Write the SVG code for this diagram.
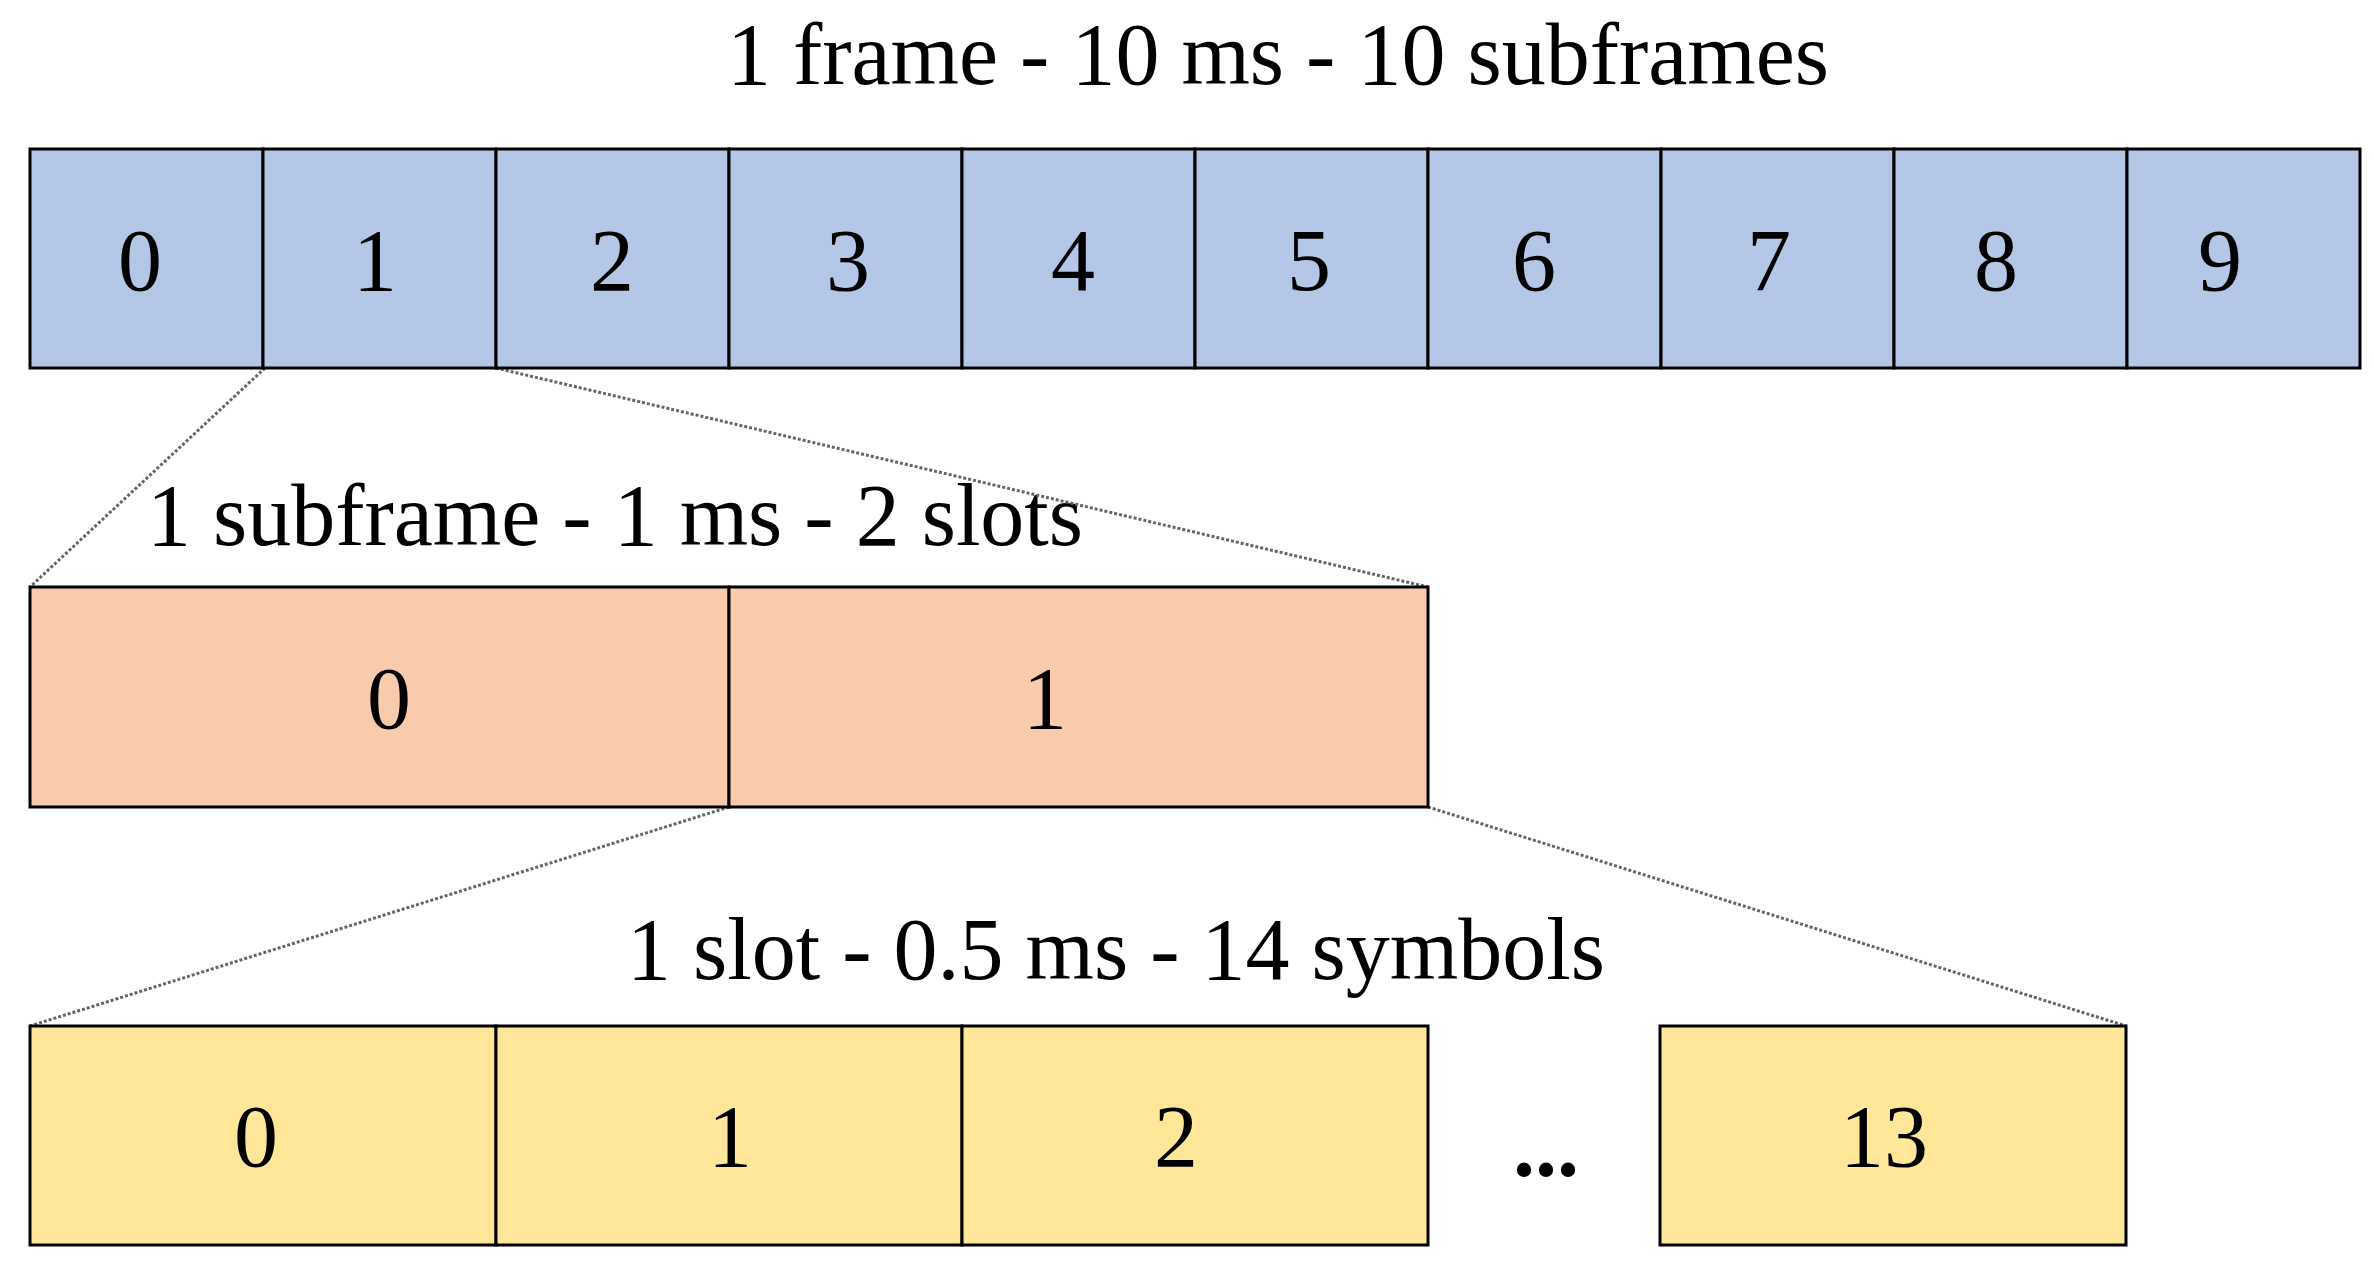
<svg xmlns="http://www.w3.org/2000/svg" width="2374" height="1265" viewBox="0 0 2374 1265">
<style>
text{font-family:"Liberation Serif","DejaVu Serif",serif;fill:#000;text-anchor:middle}
.t{font-size:88px}
.d{font-size:88px}
.b{fill:#B4C7E7;stroke:#000;stroke-width:3}
.p{fill:#F8CBAD;stroke:#000;stroke-width:3}
.y{fill:#FFE699;stroke:#000;stroke-width:3}
.c{stroke:#666;stroke-width:3;stroke-dasharray:3 2;fill:none}
</style>
<rect width="2374" height="1265" fill="#fff"/>
<text class="t" x="1278" y="84">1 frame - 10 ms - 10 subframes</text>
<text class="t" x="615" y="545">1 subframe - 1 ms - 2 slots</text>
<text class="t" x="1116" y="979">1 slot - 0.5 ms - 14 symbols</text>
<g id="connectors">
<line class="c" x1="265" y1="368" x2="30" y2="587"/>
<line class="c" x1="496" y1="368" x2="1428" y2="587"/>
<line class="c" x1="729" y1="807" x2="30" y2="1026"/>
<line class="c" x1="1428" y1="807" x2="2126" y2="1026"/>
</g>
<g id="subframes">
<g id="sf0"><rect class="b" x="30" y="149" width="233" height="219"/><text class="d" x="140" y="290">0</text></g>
<g id="sf1"><rect class="b" x="263" y="149" width="233" height="219"/><text class="d" x="375" y="290">1</text></g>
<g id="sf2"><rect class="b" x="496" y="149" width="233" height="219"/><text class="d" x="612" y="290">2</text></g>
<g id="sf3"><rect class="b" x="729" y="149" width="233" height="219"/><text class="d" x="848" y="290">3</text></g>
<g id="sf4"><rect class="b" x="962" y="149" width="233" height="219"/><text class="d" x="1073" y="290">4</text></g>
<g id="sf5"><rect class="b" x="1195" y="149" width="233" height="219"/><text class="d" x="1309" y="290">5</text></g>
<g id="sf6"><rect class="b" x="1428" y="149" width="233" height="219"/><text class="d" x="1534" y="290">6</text></g>
<g id="sf7"><rect class="b" x="1661" y="149" width="233" height="219"/><text class="d" x="1769" y="290">7</text></g>
<g id="sf8"><rect class="b" x="1894" y="149" width="233" height="219"/><text class="d" x="1996" y="290">8</text></g>
<g id="sf9"><rect class="b" x="2127" y="149" width="233" height="219"/><text class="d" x="2220" y="290">9</text></g>
</g>
<g id="slots">
<g id="slot0"><rect class="p" x="30" y="587" width="699" height="220"/><text class="d" x="389" y="728">0</text></g>
<g id="slot1"><rect class="p" x="729" y="587" width="699" height="220"/><text class="d" x="1045" y="728">1</text></g>
</g>
<g id="symbols">
<g id="sym0"><rect class="y" x="30" y="1026" width="466" height="219"/><text class="d" x="256" y="1166">0</text></g>
<g id="sym1"><rect class="y" x="496" y="1026" width="466" height="219"/><text class="d" x="730" y="1166">1</text></g>
<g id="sym2"><rect class="y" x="962" y="1026" width="466" height="219"/><text class="d" x="1176" y="1166">2</text></g>
<text class="d" x="1546" y="1176" font-weight="bold">...</text>
<g id="sym13"><rect class="y" x="1660" y="1026" width="466" height="219"/><text class="d" x="1884" y="1166">13</text></g>
</g>
</svg>
